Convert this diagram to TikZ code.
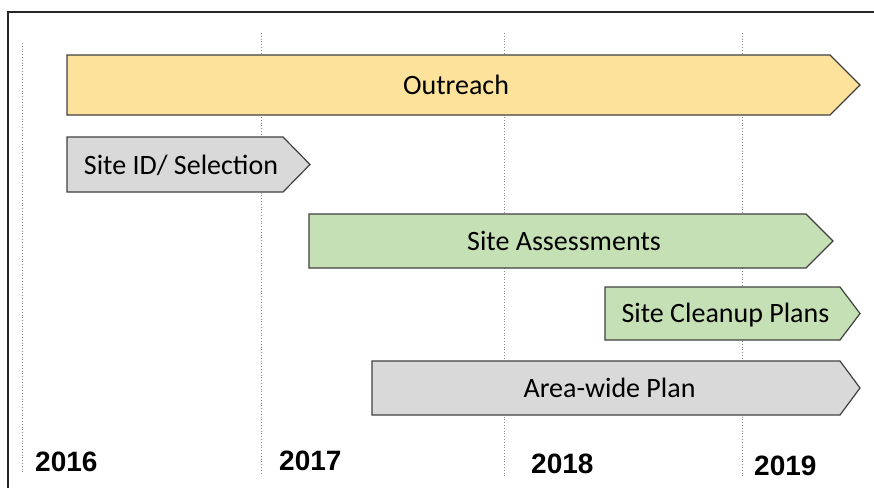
\documentclass[tikz,border=0pt]{standalone}
\usepackage{fontspec}
\setmainfont{Carlito}
\newfontfamily\anneefont{Liberation Sans}
\definecolor{jaune}{HTML}{FCE29A}
\definecolor{vert}{HTML}{C5E0B4}
\definecolor{gris}{HTML}{D9D9D9}
\begin{document}
\begin{tikzpicture}[x=1pt, y=-1pt,
  barre/.style={draw=black!75, line width=1.2pt, line join=miter},
  etiquette/.style={anchor=base, inner sep=0pt, font=\fontsize{28}{30}\selectfont},
  annee/.style={anchor=base west, inner sep=0pt, font=\anneefont\bfseries\fontsize{28}{30}\selectfont},
  repere/.style={black!45, dotted, line width=0.8pt}]
\useasboundingbox (0,0) rectangle (874,487);
% dessiner le cadre
\draw[line width=2pt, black!85] (8,495) -- (8,12) -- (885,12);

% dessiner les lignes des années
\foreach \x/\ya/\yb in {22/43/473, 261/33/473, 504/33/476, 742/33/476}
  \draw[repere] (\x,\ya) -- (\x,\yb);

% dessiner les années
\node[annee] (a2016) at (35,471) {2016};
\node[annee] (a2017) at (279,470) {2017};
\node[annee] (a2018) at (531,473) {2018};
\node[annee] (a2019) at (754,475) {2019};

% dessiner les flèches
\draw[barre, fill=jaune] (67,55) -- (830,55) -- (860,85) -- (830,115) -- (67,115) -- cycle;
\node[etiquette] (outreach) at (456,94.5) {Outreach};

\draw[barre, fill=gris] (67,137) -- (283,137) -- (310,164.5) -- (283,192) -- (67,192) -- cycle;
\node[etiquette] (selection) at (181,174) {Site ID/ Selection};

\draw[barre, fill=vert] (309,214) -- (806,214) -- (833,241) -- (806,268) -- (309,268) -- cycle;
\node[etiquette] (evaluation) at (564,250) {Site Assessments};

\draw[barre, fill=vert] (605,287) -- (840,287) -- (860,313.5) -- (840,340) -- (605,340) -- cycle;
\node[etiquette] (nettoyage) at (725.5,322) {Site Cleanup Plans};

\draw[barre, fill=gris] (372,361) -- (840,361) -- (860,388) -- (840,415) -- (372,415) -- cycle;
\node[etiquette] (plan) at (609.5,397) {Area-wide Plan};
\end{tikzpicture}
\end{document}
